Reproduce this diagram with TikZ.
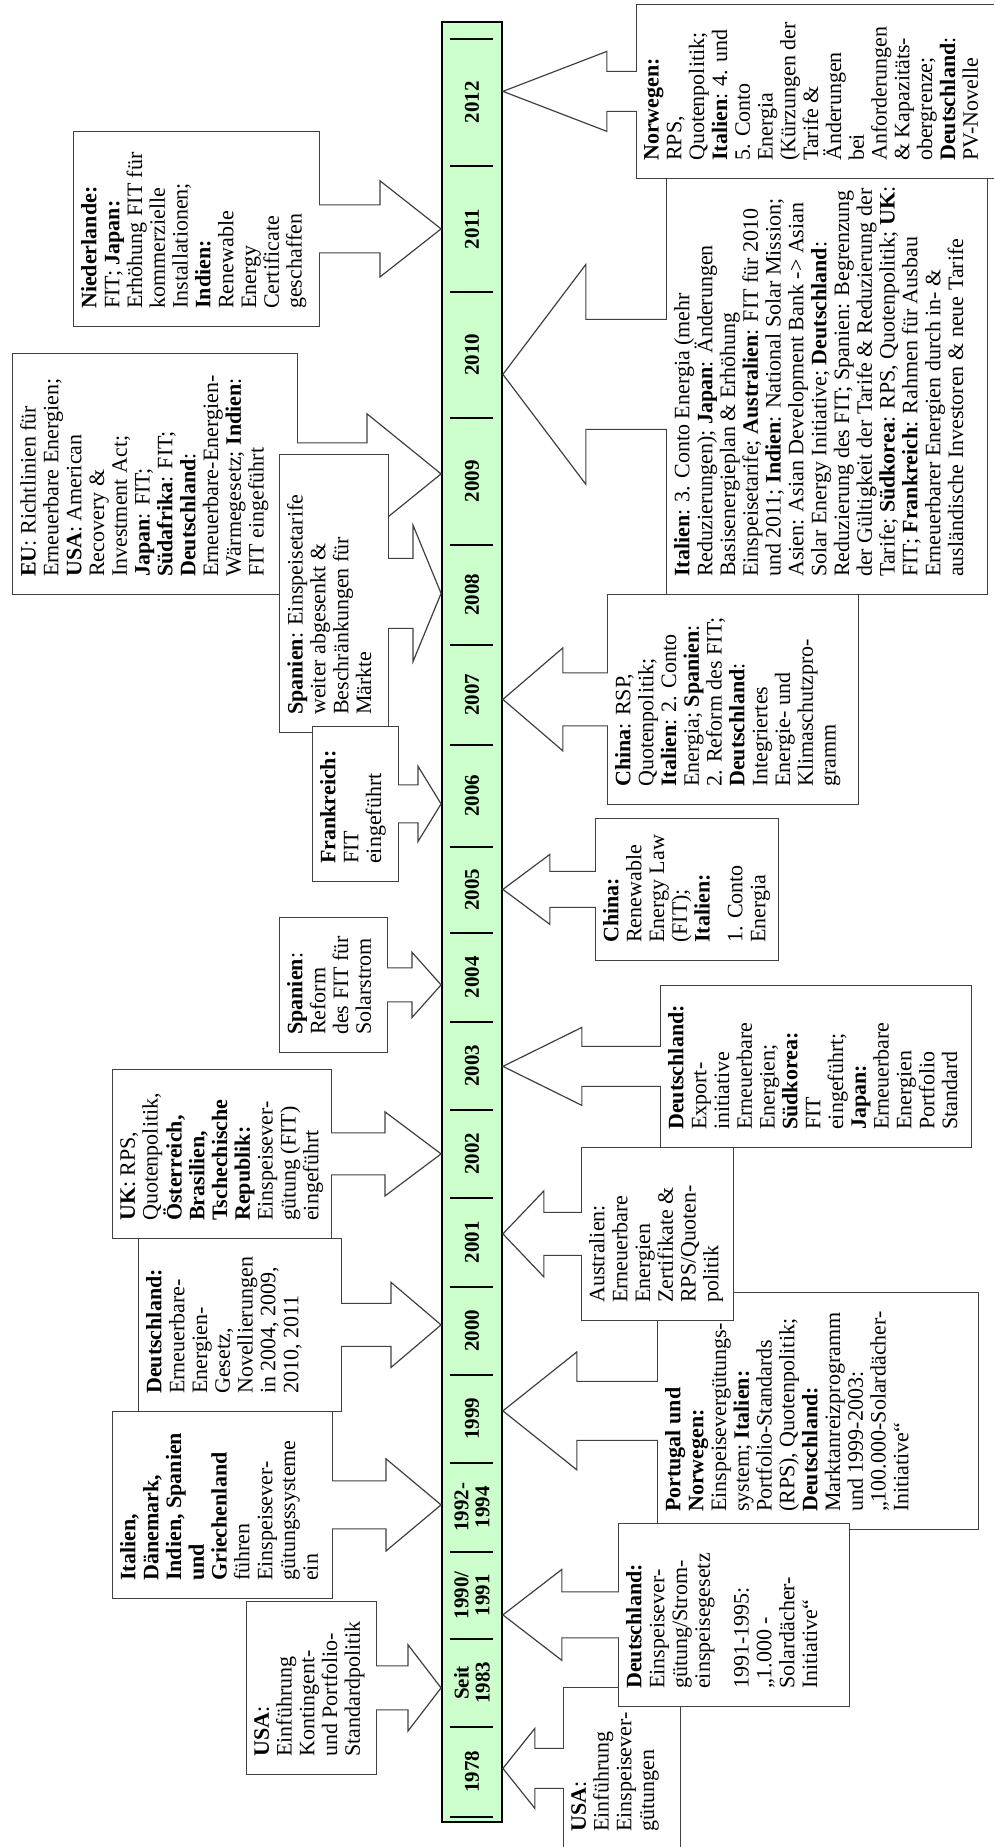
\documentclass[tikz,border=0pt]{standalone}
\usepackage{fontspec}
\setmainfont{Liberation Serif}
\usepackage{tikz}
\usetikzlibrary{calc}

\definecolor{vertfrise}{RGB}{204,255,204}
\tikzstyle{frise}=[rectangle, draw=black, line width=1.8pt, fill=vertfrise, inner sep=0pt]
\tikzstyle{annee}=[align=center, inner sep=0pt, font=\bfseries\fontsize{21}{21}\selectfont]
\tikzstyle{boite}=[rectangle, draw=black!75, line width=1.2pt, fill=white, anchor=north west, inner sep=0pt]
\tikzstyle{texte}=[anchor=north west, align=left, inner sep=0pt, font=\fontsize{22}{22.8}\selectfont]
\tikzstyle{fleche}=[draw=black!75, line width=1.2pt, fill=white, line join=miter]

% flèche pleine : #1 bord de la boîte, #2 pointe, #3 demi-corps, #4 demi-tête, #5 longueur de la tête
\newcommand{\flechepleine}[5]{%
  \filldraw[fleche] ($(#1 -| #2)+(-#3,{#5/abs(#5)})$) -- ($(#2)+(-#3,#5)$)
    -- ($(#2)+(-#4,#5)$) -- (#2) -- ($(#2)+(#4,#5)$) -- ($(#2)+(#3,#5)$)
    -- ($(#1 -| #2)+(#3,{#5/abs(#5)})$);}

\begin{document}
\begin{tikzpicture}[x=1pt, y=1pt, rotate=90, transform shape]
    \useasboundingbox (0,0) rectangle (1847,994);
    \clip (0,0) rectangle (1847,994);

    % La frise
    \node[frise, minimum width=1800pt, minimum height=60pt] (frise) at (925,522) {};
    \foreach \x in {30,120,208,295,384,472,560,649,737,825,914,1000,1102,1202,1302,1429,1555,1681,1808}
        \draw[line width=1.8pt] (\x,501) -- (\x,544);
    \foreach \x/\a [count=\i] in {75/1978, 164/{Seit\\1983}, 251.5/{1990/\\1991}, 339.5/{1992-\\1994},
        428/1999, 516/2000, 604.5/2001, 693/2002, 781/2003, 869.5/2004, 957/2005, 1051/2006,
        1152/2007, 1252/2008, 1365.5/2009, 1492/2010, 1618/2011, 1744.5/2012}
        \node[annee] (an\i) at (\x,522) {\a};

    % Les boîtes au-dessus de la frise
    \node[boite, minimum width=195pt, minimum height=246pt] (nl) at (1520,921) {};
    \node[texte] (nl-t) at ($(nl.north west)+(18,-8)$) {\textbf{Niederlande:}\\FIT; \textbf{Japan:}\\Erhöhung FIT für\\kommerzielle\\Installationen;\\\textbf{Indien:}\\Renewable\\Energy\\Certificate\\geschaffen};
    \coordinate (p2011) at (frise.north -| nl);
    \flechepleine{nl.south}{p2011}{24}{48}{61}

    \node[boite, minimum width=241pt, minimum height=285pt] (eu) at (1252,982) {};
    \node[texte] (eu-t) at ($(eu.north west)+(18,-8)$) {\textbf{EU}: Richtlinien für\\Erneuerbare Energien;\\\textbf{USA}: American\\Recovery \&\\Investment Act;\\\textbf{Japan}: FIT;\\\textbf{Südafrika}: FIT;\\\textbf{Deutschland}:\\Erneuerbare-Energien-\\Wärmegesetz; \textbf{Indien}:\\FIT eingeführt};
    \coordinate (p2009) at (frise.north -| eu);
    \flechepleine{eu.south}{p2009}{31}{60}{74}

    \node[boite, minimum width=278pt, minimum height=109pt] (es08) at (1114,715) {};
    \node[texte] (es08-t) at ($(es08.north west)+(18,-8)$) {\textbf{Spanien}: Einspeisetarife\\weiter abgesenkt \&\\Beschränkungen für\\Märkte};
    \coordinate (p2008) at (frise.north -| es08);
    \flechepleine{es08.south}{p2008}{35}{68}{28}

    \node[boite, minimum width=155pt, minimum height=86pt] (fr) at (965,682) {};
    \node[texte] (fr-t) at ($(fr.north west)+(18,-8)$) {\textbf{Frankreich:}\\FIT\\eingeführt};
    \coordinate (p2006) at (frise.north -| fr);
    \flechepleine{fr.south}{p2006}{19}{37.5}{23}

    \node[boite, minimum width=135pt, minimum height=108pt] (es04) at (794,715) {};
    \node[texte] (es04-t) at ($(es04.north west)+(18,-8)$) {\textbf{Spanien}:\\Reform\\des FIT für\\Solarstrom};
    \coordinate (p2004) at (frise.north -| es04);
    \flechepleine{es04.south}{p2004}{17}{32.5}{29}

    \node[boite, minimum width=169pt, minimum height=219pt] (uk) at (608,882) {};
    \node[texte] (uk-t) at ($(uk.north west)+(18,-8)$) {\textbf{UK}: RPS,\\Quotenpolitik,\\\textbf{Österreich,}\\\textbf{Brasilien,}\\\textbf{Tschechische}\\\textbf{Republik:}\\Einspeisever-\\gütung (FIT)\\eingeführt};
    \coordinate (p2002) at (frise.north -| uk);
    \flechepleine{uk.south}{p2002}{21}{42}{56}

    \node[boite, minimum width=173pt, minimum height=203pt] (eeg) at (435,856) {};
    \node[texte] (eeg-t) at ($(eeg.north west)+(18,-8)$) {\textbf{Deutschland:}\\Erneuerbare-\\Energien-\\Gesetz,\\Novellierungen\\in 2004, 2009,\\2010, 2011};
    \coordinate (p2000) at (frise.north -| eeg);
    \flechepleine{eeg.south}{p2000}{21.5}{42.5}{50}

    \node[boite, minimum width=187pt, minimum height=220pt] (it92) at (248,882) {};
    \node[texte] (it92-t) at ($(it92.north west)+(18,-8)$) {\textbf{Italien,}\\\textbf{Dänemark,}\\\textbf{Indien, Spanien}\\\textbf{und}\\\textbf{Griechenland}\\führen\\Einspeisever-\\gütungssysteme\\ein};
    \coordinate (p1992) at (frise.north -| it92);
    \flechepleine{it92.south}{p1992}{24}{46}{55}

    \node[boite, minimum width=173pt, minimum height=130pt] (us83) at (72,748) {};
    \node[texte] (us83-t) at ($(us83.north west)+(18,-8)$) {\textbf{USA}:\\Einführung\\Kontingent-\\und Portfolio-\\Standardpolitik};
    \coordinate (p1983) at (frise.north -| us83);
    \flechepleine{us83.south}{p1983}{22}{43}{33}

    % Les boîtes au-dessous de la frise
    \node[boite, minimum width=174pt, minimum height=372pt] (no) at (1668,358) {};
    \node[texte] (no-t) at ($(no.north west)+(18,-8)$) {\textbf{Norwegen:}\\RPS,\\Quotenpolitik;\\\textbf{Italien}: 4. und\\5. Conto\\Energia\\(Kürzungen der\\Tarife \&\\Änderungen\\bei\\Anforderungen\\\& Kapazitäts-\\obergrenze;\\\textbf{Deutschland}:\\PV-Novelle};
    \coordinate (p2012) at (frise.south -| no);
    \flechepleine{no.north}{p2012}{20}{40}{-104}

    \node[boite, minimum width=416pt, minimum height=321pt] (it10) at (1252,328) {};
    \node[texte] (it10-t) at ($(it10.north west)+(18,-8)$) {\textbf{Italien}: 3. Conto Energia (mehr\\Reduzierungen); \textbf{Japan}: Änderungen\\Basisenergieplan \& Erhöhung\\Einspeisetarife; \textbf{Australien}: FIT für 2010\\und 2011; \textbf{Indien}: National Solar Mission;\\Asien: Asian Development Bank -> Asian\\Solar Energy Initiative; \textbf{Deutschland}:\\Reduzierung des FIT; Spanien: Begrenzung\\der Gültigkeit der Tarife \& Reduzierung der\\Tarife; \textbf{Südkorea}: RPS, Quotenpolitik; \textbf{UK}:\\FIT; \textbf{Frankreich}: Rahmen für Ausbau\\Erneuerbarer Energien durch in- \&\\ausländische Investoren \& neue Tarife};
    \coordinate (p2010) at ($(frise.south -| it10)+(12,0)$);
    \flechepleine{it10.north}{p2010}{55}{110}{-83}

    \node[boite, minimum width=210pt, minimum height=251pt] (cn07) at (1042,387) {};
    \node[texte] (cn07-t) at ($(cn07.north west)+(18,-8)$) {\textbf{China}: RSP,\\Quotenpolitik;\\\textbf{Italien}: 2. Conto\\Energia; \textbf{Spanien}:\\2. Reform des FIT;\\\textbf{Deutschland}:\\Integriertes\\Energie- und\\Klimaschutzpro-\\gramm};
    \coordinate (p2007) at (frise.south -| cn07);
    \flechepleine{cn07.north}{p2007}{26.5}{51.5}{-60}

    \node[boite, minimum width=142pt, minimum height=183pt] (cn05) at (886,399) {};
    \node[texte] (cn05-t) at ($(cn05.north west)+(18,-8)$) {\textbf{China:}\\Renewable\\Energy Law\\(FIT);\\\textbf{Italien:}\\[10pt]1. Conto\\Energia};
    \coordinate (p2005) at (frise.south -| cn05);
    \flechepleine{cn05.north}{p2005}{18}{35}{-47}

    \node[boite, minimum width=162pt, minimum height=311pt] (de03) at (699,334) {};
    \node[texte] (de03-t) at ($(de03.north west)+(18,-8)$) {\textbf{Deutschland:}\\Export-\\initiative\\Erneuerbare\\Energien;\\\textbf{Südkorea:}\\FIT\\eingeführt;\\\textbf{Japan:}\\Erneuerbare\\Energien\\Portfolio\\Standard};
    \coordinate (p2003) at (frise.south -| de03);
    \flechepleine{de03.north}{p2003}{20}{39}{-79}

    \node[boite, minimum width=162pt, minimum height=117pt] (us78) at (-3,431) {};
    \node[texte] (us78-t) at ($(us78.north west)+(18,-8)$) {\textbf{USA}:\\Einführung\\Einspeisever-\\gütungen};
    \coordinate (p1978) at (frise.south -| us78);
    \flechepleine{us78.north}{p1978}{20}{40}{-32}

    \node[boite, minimum width=237pt, minimum height=321pt] (pt) at (317,337) {};
    \node[texte] (pt-t) at ($(pt.north west)+(18,-8)$) {\textbf{Portugal und}\\\textbf{Norwegen:}\\Einspeisevergütungs-\\system; \textbf{Italien:}\\Portfolio-Standards\\(RPS), Quotenpolitik;\\\textbf{Deutschland:}\\Marktanreizprogramm\\und 1999-2003:\\„100.000-Solardächer-\\Initiative“};
    \coordinate (p1999) at (frise.south -| pt);
    \flechepleine{pt.north}{p1999}{29.5}{59}{-74}

    \node[boite, minimum width=183pt, minimum height=231pt] (de90) at (140,376) {};
    \node[texte] (de90-t) at ($(de90.north west)+(18,-8)$) {\textbf{Deutschland:}\\Einspeisever-\\gütung/Strom-\\einspeisegesetz\\[16pt]1991-1995:\\„1.000 -\\Solardächer-\\Initiative“};
    \coordinate (p1990) at (frise.south -| de90);
    \flechepleine{de90.north}{p1990}{23}{45.5}{-59}

    \node[boite, minimum width=173pt, minimum height=152pt] (au) at (526,413) {};
    \node[texte] (au-t) at ($(au.north west)+(18,-8)$) {Australien:\\Erneuerbare\\Energien\\Zertifikate \&\\RPS/Quoten-\\politik};
    \coordinate (p2001) at (frise.south -| au);
    \flechepleine{au.north}{p2001}{21.5}{43}{-41}
\end{tikzpicture}
\end{document}
